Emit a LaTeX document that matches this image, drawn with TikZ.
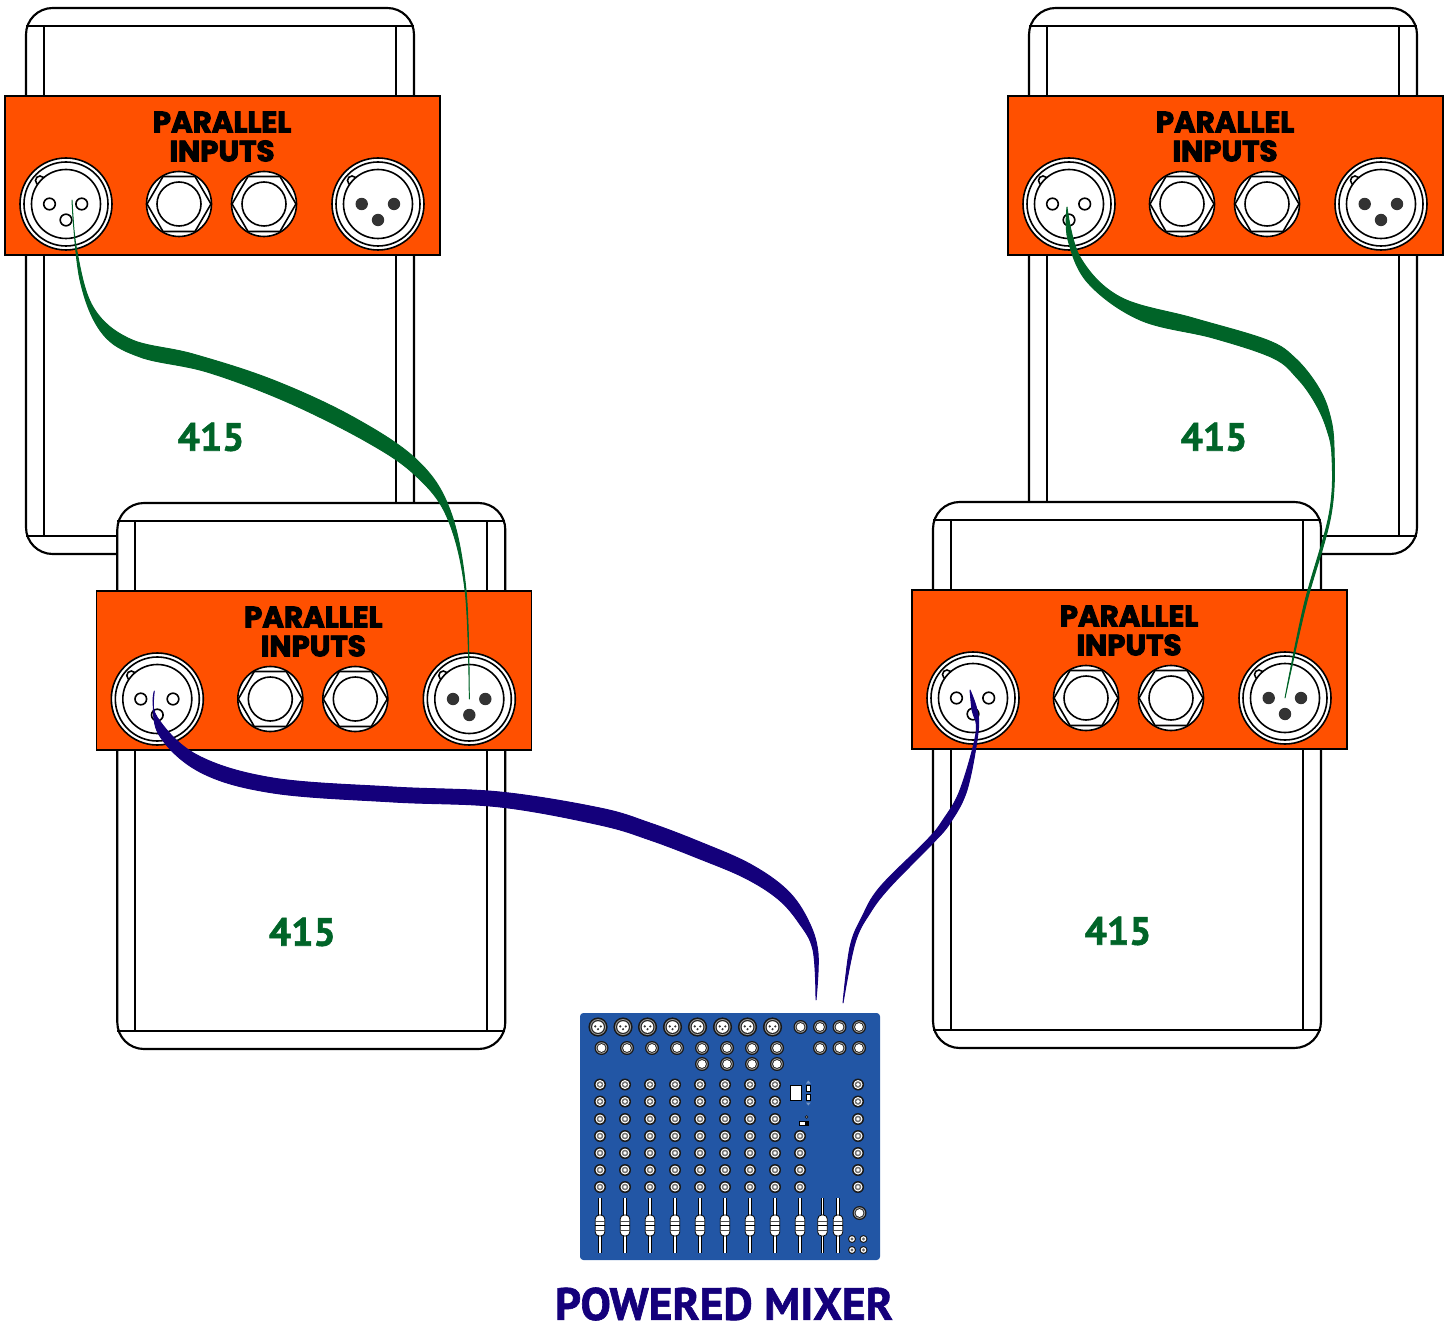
\documentclass[tikz,border=0pt]{standalone}
\usetikzlibrary{calc}
\usepackage{fontspec}
\newfontfamily\heavyfont[BoldFont={* Bold},FakeBold=3.2]{Poppins}
\newfontfamily\comicfont[FakeBold=1.4]{PT Sans Bold}
\definecolor{panelorange}{HTML}{FF5000}
\definecolor{cablegreen}{HTML}{006428}
\definecolor{cablenavy}{HTML}{14007B}
\definecolor{mixerblue}{HTML}{2256A5}
\definecolor{pindark}{HTML}{333333}
\tikzset{
  x=0.75pt,y=-0.75pt,
  ampline/.style={draw=black,line width=1.6pt},
  thinline/.style={draw=black,line width=1.2pt,fill=white},
  paneltext/.style={font=\heavyfont\bfseries\fontsize{22}{22}\selectfont,text=black,inner sep=0pt},
  modeltext/.style={font=\comicfont\fontsize{29.5}{30}\selectfont,text=cablegreen,inner sep=0pt},
  greencable/.style={fill=cablegreen,draw=cablegreen,line width=0.7pt,line join=round},
  navycable/.style={fill=cablenavy,draw=cablenavy,line width=0.7pt,line join=round},
  amp/.pic={
    \draw[ampline,fill=white,rounded corners=20pt] (26,8) rectangle (414,554);
    \draw[ampline] (26,26) -- (414,26) (26,536) -- (414,536)
      (44,26) -- (44,536) (396,26) -- (396,536);
    \draw[draw=black,line width=0.8pt,fill=panelorange] (5,96) rectangle (440,255);
    \node[paneltext] (-t1) at (222,122) {PARALLEL};
    \node[paneltext] (-t2) at (222,151) {INPUTS};
    \node[modeltext] (-model) at (211,437) {415};
    % female XLR
    \coordinate (-xin) at (66,204);
    \draw[thinline] (-xin) circle[radius=46] circle[radius=42];
    \draw[thinline] (40,180.5) circle[radius=4.5];
    \draw[thinline] (-xin) circle[radius=34.5];
    \draw[thinline] (49.5,204) circle[radius=5.8] (81.7,204) circle[radius=5.8] (66,220) circle[radius=5.8];
    % jacks
    \foreach \jx in {179,264}{
      \draw[thinline] (\jx,204) circle[radius=32.5];
      \draw[draw=black,line width=1.2pt] (\jx-32,204) -- (\jx-16,176.5) -- (\jx+16,176.5) -- (\jx+32,204) -- (\jx+16,231.5) -- (\jx-16,231.5) -- cycle;
      \draw[thinline] (\jx,204) circle[radius=22];
    }
    % male XLR
    \coordinate (-xout) at (378,204);
    \draw[thinline] (-xout) circle[radius=46] circle[radius=42];
    \draw[thinline] (352,180.5) circle[radius=4.5];
    \draw[thinline] (-xout) circle[radius=34.5];
    \fill[pindark] (361.7,204) circle[radius=6.2] (394,204) circle[radius=6.2] (378,220) circle[radius=6.2];
  }
}
\begin{document}
\begin{tikzpicture}
\useasboundingbox (0,0) rectangle (1452,1326);
\pic (a) at (0,0) {amp};
\pic (c) at (1003,0) {amp};
\pic (b) at (91.3,495) {amp};
\pic (d) at (907,494) {amp};

% mixer
\fill[mixerblue,rounded corners=2.5pt] (580,1013) rectangle (880,1260);
\coordinate (mixL) at (816,1000);
\coordinate (mixR) at (843,1003);
\foreach \mx in {598,623,647.5,672.5,697.5,722.5,747.5,772.5}{
  \fill[black!90] (\mx,1027) circle[radius=9.6];
  \fill[black!40] (\mx,1027) circle[radius=8];
  \fill[black!85] (\mx,1027) circle[radius=7];
  \fill[white] (\mx,1027) circle[radius=5.8];
  \fill[pindark] (\mx-2.8,1026.4) circle[radius=1.2] (\mx+2.8,1026.4) circle[radius=1.2] (\mx,1029.2) circle[radius=1.2];
}
\foreach \mx/\my in {800.5/1027,820/1027,839.5/1027,859/1027,
  601.5/1048,627/1048,652/1048,677/1048,702/1048,727/1048,752/1048,777/1048,820/1048,839.5/1048,859/1048,
  702/1064,727/1064,752/1064,777/1064,859.5/1213}{
  \fill[black!90] (\mx,\my) circle[radius=7];
  \fill[black!35] (\mx,\my) circle[radius=5.7];
  \fill[black!85] (\mx,\my) circle[radius=4.9];
  \fill[white] (\mx,\my) circle[radius=3.9];
}
\foreach \my in {1084.5,1101.5,1119,1136,1153,1170,1187}{
  \foreach \mx in {600,625,650,675,700,725,750,775,858}{
    \fill[black!90] (\mx,\my) circle[radius=6];
    \fill[white] (\mx,\my) circle[radius=4.5];
    \fill[black!55] (\mx,\my) circle[radius=3.3];
    \fill[white] (\mx,\my) circle[radius=1.9];
  }
}
\foreach \my in {1136,1153,1170,1187}{
  \fill[black!90] (800,\my) circle[radius=6];
  \fill[white] (800,\my) circle[radius=4.5];
  \fill[black!55] (800,\my) circle[radius=3.3];
  \fill[white] (800,\my) circle[radius=1.9];
}
\foreach \mx in {600,625,650,675,700,725,750,775,800,822.5,838}{
  \fill[black] (\mx-1.8,1198) rectangle (\mx+1.8,1253);
  \fill[white] (\mx-0.7,1198) rectangle (\mx+0.9,1253);
  \draw[black,line width=0.6pt,fill=white,rounded corners=3pt] (\mx-4.8,1215) rectangle (\mx+4.8,1236);
  \draw[black!70,line width=0.5pt] (\mx-4.8,1221) -- (\mx+4.8,1221) (\mx-4.8,1230) -- (\mx+4.8,1230);
  \fill[black] (\mx-4.8,1224.6) rectangle (\mx+4.8,1226.4);
}
\foreach \mx/\my in {852/1239,863.5/1239,852/1250,863.5/1250}{
  \fill[black!90] (\mx,\my) circle[radius=4];
  \fill[white] (\mx,\my) circle[radius=2.8];
  \fill[black!60] (\mx,\my) circle[radius=1.6];
}
\draw[black,line width=0.6pt,fill=white] (790.7,1085) rectangle (801,1100.7);
\draw[black,line width=0.6pt,fill=white] (806,1085) rectangle (810.7,1091.7);
\draw[black,line width=0.6pt,fill=white] (806,1094) rectangle (810.7,1100.7);
\fill[mixerblue!60!white] (806,1083.5) -- (810.7,1083.5) -- (808.3,1080.5) -- cycle;
\fill[mixerblue!60!white] (806,1102.5) -- (810.7,1102.5) -- (808.3,1105.5) -- cycle;
\draw[black,line width=0.5pt,fill=white] (806.7,1117) circle[radius=1.3];
\draw[black,line width=0.5pt,fill=white] (799.5,1121.7) rectangle (808.3,1125);
\fill[black] (804.5,1121.7) rectangle (808.3,1125);

\node[font=\comicfont\fontsize{34}{34}\selectfont,text=cablenavy,inner sep=0pt] (mixerlabel) at (724,1304) {POWERED MIXER};

% cables
\path[greencable] plot[smooth,tension=0.6] coordinates {($(a-xin)+(6,-4)$) (76.7,250) (93,307) (130,339) (193,354) (273,380) (353,417) (417,460) (450,510) (466,590) (b-xout)}
  -- plot[smooth,tension=0.6] coordinates {(b-xout) (465,590) (447,517) (415,475) (367,442) (287,402) (207,372) (140,357) (102,333) (80,280) ($(a-xin)+(6,-4)$)} -- cycle;
\path[greencable] plot[smooth,tension=0.6] coordinates {($(c-xin)+(-2,3)$) (1080,257) (1120,297) (1193,318) (1267,340) (1295,358) (1317,385) (1329,412) (1334,447) (1331,515) (1306,605) (d-xout)}
  -- plot[smooth,tension=0.6] coordinates {(d-xout) (1304,605) (1329,515) (1332,457) (1326,427) (1314,401) (1297,378) (1273,358) (1213,338) (1140,320) (1088,283) (1068,240) ($(c-xin)+(-2,3)$)} -- cycle;
\path[navycable] plot[smooth,tension=0.6] coordinates {($(b-xin)+(-3,-8)$) (157,717) (197,755) (273,778) (393,787) (500,792) (600,808) (650,823) (700,842) (750,864) (787,890) (808,920) (818,953) (mixL)}
  -- plot[smooth,tension=0.6] coordinates {(mixL) (813,950) (799,923) (778,899) (745,878) (700,859) (650,840) (600,825) (500,807) (393,802) (273,793) (200,772) (158,733) ($(b-xin)+(-3,-8)$)} -- cycle;
\path[navycable] plot[smooth,tension=0.6] coordinates {($(d-xin)+(-3,-8)$) (977,710) (978,733) (967,790) (950,823) (933,843) (890,887) (870,913) (855,943) (mixR)}
  -- plot[smooth,tension=0.6] coordinates {(mixR) (850,947) (862,917) (880,887) (927,840) (943,820) (960,790) (976,733) (972,710) ($(d-xin)+(-3,-8)$)} -- cycle;
\end{tikzpicture}
\end{document}
